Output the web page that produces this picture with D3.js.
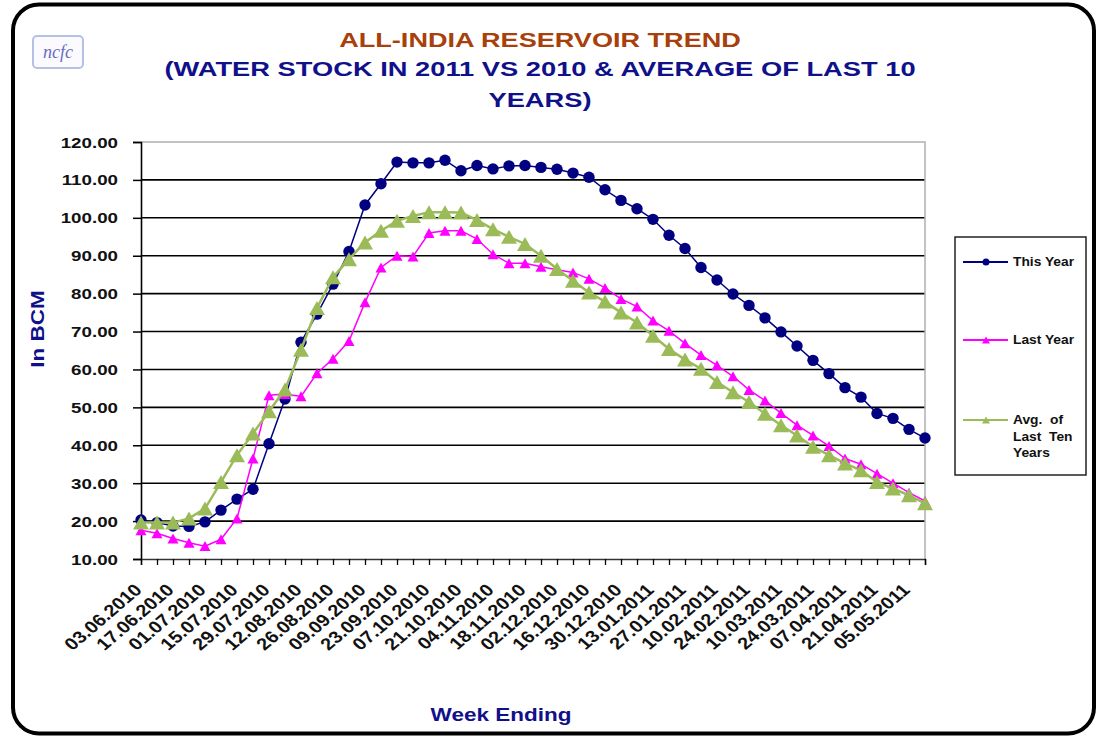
<!DOCTYPE html>
<html>
<head>
<meta charset="utf-8">
<script src="https://cdn.jsdelivr.net/npm/d3@7"></script>
<style>
  body { margin: 0; background: #fff; }
  svg { display: block; font-family: Arial, "Liberation Sans", sans-serif; }
</style>
</head>
<body>
<svg id="chart" width="1097" height="737"></svg>
<script>
// week ending dates (x categories)
var weeks = ["03.06.2010","10.06.2010","17.06.2010","24.06.2010","01.07.2010","08.07.2010","15.07.2010","22.07.2010",
  "29.07.2010","05.08.2010","12.08.2010","19.08.2010","26.08.2010","02.09.2010","09.09.2010","16.09.2010",
  "23.09.2010","30.09.2010","07.10.2010","14.10.2010","21.10.2010","28.10.2010","04.11.2010","11.11.2010",
  "18.11.2010","25.11.2010","02.12.2010","09.12.2010","16.12.2010","23.12.2010","30.12.2010","06.01.2011",
  "13.01.2011","20.01.2011","27.01.2011","03.02.2011","10.02.2011","17.02.2011","24.02.2011","03.03.2011",
  "10.03.2011","17.03.2011","24.03.2011","31.03.2011","07.04.2011","14.04.2011","21.04.2011","28.04.2011",
  "05.05.2011","12.05.2011"];

var thisYear = [20.3,19.6,18.7,18.6,19.8,22.9,25.8,28.4,40.4,52.2,67.2,74.6,82.5,91.1,103.4,109.0,114.7,114.5,114.5,115.2,
  112.4,113.8,112.9,113.7,113.8,113.3,112.8,111.8,110.7,107.4,104.6,102.4,99.6,95.4,91.9,86.9,83.6,79.9,76.9,73.6,
  69.9,66.2,62.4,58.9,55.2,52.7,48.4,47.1,44.2,41.9];

var lastYear = [17.6,16.8,15.4,14.3,13.4,15.2,20.7,36.5,53.2,53.5,52.9,59.0,62.8,67.5,77.7,86.9,90.0,89.8,96.0,96.6,
  96.6,94.4,90.4,88.0,88.0,87.1,86.3,85.6,83.9,81.5,78.6,76.6,72.9,70.2,66.9,63.8,61.1,58.2,54.6,51.8,
  48.5,45.3,42.6,39.8,36.5,35.0,32.5,30.0,27.5,25.3];

var avgTen = [19.6,19.6,19.6,20.7,23.3,30.3,37.4,43.1,49.0,54.7,65.2,76.2,84.3,89.1,93.5,96.6,99.2,100.5,101.5,101.5,
  101.4,99.4,97.0,95.0,93.1,90.0,86.5,83.4,80.3,77.9,75.0,72.4,68.9,65.4,62.6,60.2,56.7,54.0,51.4,48.3,
  45.3,42.6,39.6,37.4,35.2,33.4,30.3,28.6,26.8,24.7];

var yTicks = [10,20,30,40,50,60,70,80,90,100,110,120];

var svg = d3.select("#chart");
var SX = 1.25; // glyphs in the picture are drawn a bit wide

var margin = {top: 142, left: 141, bottom: 559, right: 925};

var x = d3.scalePoint().domain(weeks).range([margin.left, margin.right]);
var y = d3.scaleLinear().domain([10, 120]).range([margin.bottom, margin.top]);

// outer frame
svg.append("rect")
  .attr("x", 13).attr("y", 4.5)
  .attr("width", 1081).attr("height", 729)
  .attr("rx", 26).attr("ry", 26)
  .attr("fill", "#fff")
  .attr("stroke", "#000")
  .attr("stroke-width", 4);

// logo
svg.append("rect")
  .attr("x", 33).attr("y", 36).attr("width", 50).attr("height", 32)
  .attr("rx", 4)
  .attr("fill", "#fbfbff")
  .attr("stroke", "#b4c0e4")
  .attr("stroke-width", 2);
svg.append("text")
  .attr("x", 58).attr("y", 58)
  .attr("text-anchor", "middle")
  .style("font-family", "'Liberation Serif', 'DejaVu Serif', serif")
  .style("font-style", "italic")
  .style("font-size", "18px")
  .style("fill", "#6b6bbf")
  .text("ncfc");

// titles
function stretchedText(txt, px, py, size, color, anchor, sx){
  return svg.append("text")
    .attr("transform", "translate(" + px + "," + py + ") scale(" + (sx || SX) + ",1)")
    .attr("text-anchor", anchor || "middle")
    .style("font-size", size + "px")
    .style("font-weight", "bold")
    .style("fill", color)
    .text(txt);
}
stretchedText("ALL-INDIA RESERVOIR TREND", 540, 46.5, 21, "#a8400c", "middle", 1.29);
stretchedText("(WATER STOCK IN 2011 VS 2010 & AVERAGE OF LAST 10", 540, 76, 21, "#10108a", "middle", 1.3);
stretchedText("YEARS)", 540, 107, 21, "#10108a", "middle", 1.3);

// gridlines
svg.append("g").selectAll("line")
  .data(yTicks.filter(function(d){ return d > 10 && d < 120; }))
  .enter().append("line")
  .attr("x1", margin.left).attr("x2", margin.right)
  .attr("y1", function(d){ return y(d); })
  .attr("y2", function(d){ return y(d); })
  .attr("stroke", "#000")
  .attr("stroke-width", 1.6);

// plot area border (top/right)
svg.append("path")
  .attr("d", "M" + margin.left + "," + y(120) + "H" + margin.right + "V" + y(10))
  .attr("fill", "none")
  .attr("stroke", "#b0b0b0")
  .attr("stroke-width", 1.5);

// y axis
var yAxis = d3.axisLeft(y).tickValues(yTicks).tickSize(8).tickFormat(function(d){ return ""; });
var gy = svg.append("g").attr("transform", "translate(" + margin.left + ",0)").call(yAxis);
gy.select(".domain").attr("stroke", "#000").attr("stroke-width", 1.6);
gy.selectAll(".tick line").attr("stroke", "#000").attr("stroke-width", 1.5);

yTicks.forEach(function(d){
  stretchedText(d3.format(".2f")(d), 118, y(d) + 5.5, 15, "#111", "end");
});

// x axis
var xAxis = d3.axisBottom(x).tickSize(6).tickFormat(function(d){ return ""; });
var gx = svg.append("g").attr("transform", "translate(0," + margin.bottom + ")").call(xAxis);
gx.select(".domain").attr("stroke", "#333").attr("stroke-width", 1.5);
gx.selectAll(".tick line").attr("stroke", "#000").attr("stroke-width", 1.3);

svg.append("g").selectAll("text")
  .data(weeks.filter(function(d, i){ return i % 2 == 0; }))
  .enter().append("text")
  .attr("transform", function(d){ return "translate(" + (x(d) + 2) + "," + (margin.bottom + 32) + ") scale(1.17,1) rotate(-45)"; })
  .attr("text-anchor", "end")
  .style("font-size", "17px")
  .style("font-weight", "bold")
  .style("fill", "#111")
  .text(function(d){ return d; });

// axis titles
svg.append("text")
  .attr("transform", "translate(44,329) rotate(-90) scale(1.5,1.2)")
  .attr("text-anchor", "middle")
  .style("font-size", "15px")
  .style("font-weight", "bold")
  .style("fill", "#10108a")
  .text("In BCM");
stretchedText("Week Ending", 501, 721, 18, "#10108a");

// series
function tri(w, h){
  return "M0," + (-h/2) + "L" + (w/2) + "," + (h/2) + "L" + (-w/2) + "," + (h/2) + "Z";
}

var line = d3.line()
  .x(function(d, i){ return x(weeks[i]); })
  .y(function(d){ return y(d); });

// This Year
svg.append("path").datum(thisYear)
  .attr("d", line).attr("fill", "none")
  .attr("stroke", "#000080").attr("stroke-width", 1.5);
svg.append("g").selectAll("circle")
  .data(thisYear).enter().append("circle")
  .attr("cx", function(d, i){ return x(weeks[i]); })
  .attr("cy", function(d){ return y(d); })
  .attr("r", 5.7)
  .attr("fill", "#000080");

// Last Year
svg.append("path").datum(lastYear)
  .attr("d", line).attr("fill", "none")
  .attr("stroke", "#ff00ff").attr("stroke-width", 1.5);
svg.append("g").selectAll("path")
  .data(lastYear).enter().append("path")
  .attr("d", tri(11, 10))
  .attr("transform", function(d, i){ return "translate(" + x(weeks[i]) + "," + y(d) + ")"; })
  .attr("fill", "#ff00ff");

// Avg of last ten years
svg.append("path").datum(avgTen)
  .attr("d", line).attr("fill", "none")
  .attr("stroke", "#9bbb59").attr("stroke-width", 2.5);
svg.append("g").selectAll("path")
  .data(avgTen).enter().append("path")
  .attr("d", tri(16, 14))
  .attr("transform", function(d, i){ return "translate(" + x(weeks[i]) + "," + y(d) + ")"; })
  .attr("fill", "#9bbb59");

// legend
var legend = svg.append("g");
legend.append("rect")
  .attr("x", 955).attr("y", 237).attr("width", 131).attr("height", 238)
  .attr("fill", "#fff").attr("stroke", "#222").attr("stroke-width", 1.5);

var legendItems = [
  {label: ["This Year"], color: "#000080", mark: "circle", y: 262},
  {label: ["Last Year"], color: "#ff00ff", mark: "tri", y: 340},
  {label: ["Avg.  of", "Last  Ten", "Years"], color: "#9bbb59", mark: "tri", y: 420}
];
legendItems.forEach(function(it){
  legend.append("line")
    .attr("x1", 963).attr("x2", 1008)
    .attr("y1", it.y).attr("y2", it.y)
    .attr("stroke", it.color).attr("stroke-width", 2);
  if(it.mark == "circle"){
    legend.append("circle").attr("cx", 986).attr("cy", it.y).attr("r", 3.5).attr("fill", it.color);
  } else {
    legend.append("path").attr("d", tri(8, 7))
      .attr("transform", "translate(986," + it.y + ")").attr("fill", it.color);
  }
  it.label.forEach(function(t, k){
    legend.append("text")
      .attr("transform", "translate(1013," + (it.y + 4 + k * 16.5) + ") scale(1.15,1)")
      .style("font-size", "12px")
      .style("font-weight", "bold")
      .style("fill", "#111")
      .style("white-space", "pre")
      .text(t);
  });
});
</script>
</body>
</html>
